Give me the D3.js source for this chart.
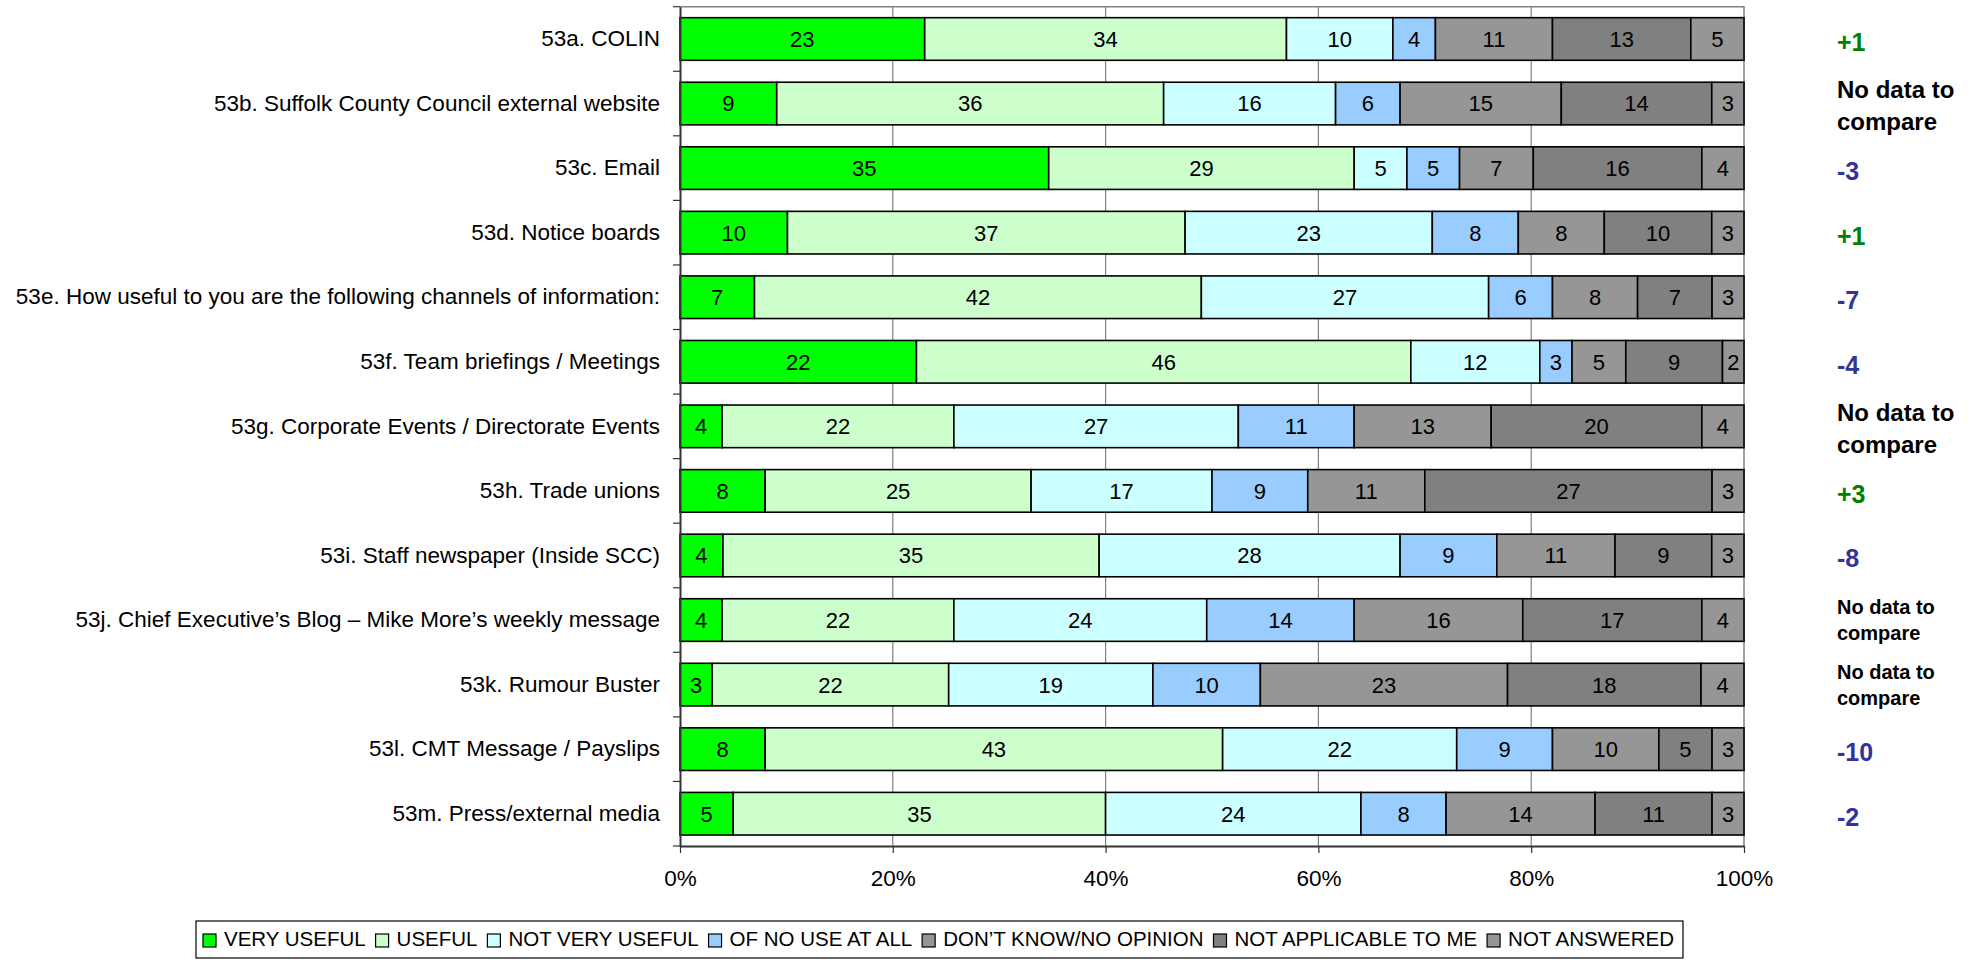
<!DOCTYPE html>
<html>
<head>
<meta charset="utf-8">
<script src="https://cdn.jsdelivr.net/npm/d3@7"></script>
<style>
  html, body { margin: 0; padding: 0; background: #fff; }
  svg { display: block; font-family: "Liberation Sans", Arial, sans-serif; }
</style>
</head>
<body>
<svg id="chart" width="1986" height="960"></svg>
<script>
// ---------- DATA ----------
const categories = [
  "53a. COLIN",
  "53b. Suffolk County Council external website",
  "53c. Email",
  "53d. Notice boards",
  "53e. How useful to you are the following channels of information:",
  "53f. Team briefings / Meetings",
  "53g. Corporate Events / Directorate Events",
  "53h. Trade unions",
  "53i. Staff newspaper (Inside SCC)",
  "53j. Chief Executive\u2019s Blog \u2013 Mike More\u2019s weekly message",
  "53k. Rumour Buster",
  "53l. CMT Message / Payslips",
  "53m. Press/external media"
];
const seriesNames = [
  "VERY USEFUL", "USEFUL", "NOT VERY USEFUL", "OF NO USE AT ALL",
  "DON\u2019T KNOW/NO OPINION", "NOT APPLICABLE TO ME", "NOT ANSWERED"
];
const veryUseful    = [23, 9, 35, 10, 7, 22, 4, 8, 4, 4, 3, 8, 5];
const useful        = [34, 36, 29, 37, 42, 46, 22, 25, 35, 22, 22, 43, 35];
const notVeryUseful = [10, 16, 5, 23, 27, 12, 27, 17, 28, 24, 19, 22, 24];
const ofNoUse       = [4, 6, 5, 8, 6, 3, 11, 9, 9, 14, 10, 9, 8];
const dontKnow      = [11, 15, 7, 8, 8, 5, 13, 11, 11, 16, 23, 10, 14];
const notApplicable = [13, 14, 16, 10, 7, 9, 20, 27, 9, 17, 18, 5, 11];
const notAnswered   = [5, 3, 4, 3, 3, 2, 4, 3, 3, 4, 4, 3, 3];
const changes = ["+1", "No data to compare", "-3", "+1", "-7", "-4",
  "No data to compare", "+3", "-8", "No data to compare", "No data to compare", "-10", "-2"];
const xTicks = [0, 0.2, 0.4, 0.6, 0.8, 1.0];

const seriesColors = ["#00FF00", "#CCFFCC", "#CCFFFF", "#99CCFF", "#969696", "#808080", "#969696"];

// ---------- LAYOUT ----------
const plot = { left: 680, right: 1744, top: 6.7, bottom: 846 };
const svg = d3.select("#chart");

const allSeries = [veryUseful, useful, notVeryUseful, ofNoUse, dontKnow, notApplicable, notAnswered];
const rows = categories.map((c, i) => {
  const obj = { cat: c };
  seriesNames.forEach((s, k) => obj[s] = allSeries[k][i]);
  return obj;
});

const x = d3.scaleLinear().domain([0, 1]).range([plot.left, plot.right]);
const y = d3.scaleBand().domain(categories).range([plot.top, plot.bottom])
  .paddingInner(0.34).paddingOuter(0.17);

const stack = d3.stack().keys(seriesNames).offset(d3.stackOffsetExpand);
const stacked = stack(rows);

// gridlines
svg.append("g").selectAll("line").data(xTicks.slice(1, -1)).join("line")
  .attr("x1", d => x(d)).attr("x2", d => x(d))
  .attr("y1", plot.top).attr("y2", plot.bottom)
  .attr("stroke", "#808080").attr("stroke-width", 1.2);

// plot area border (top and right)
svg.append("path")
  .attr("d", `M${plot.left},${plot.top}H${plot.right}V${plot.bottom}`)
  .attr("fill", "none").attr("stroke", "#808080").attr("stroke-width", 1.5);

// bars
const layers = svg.append("g").selectAll("g").data(stacked).join("g")
  .attr("fill", (d, i) => seriesColors[i]);
layers.selectAll("rect").data(d => d).join("rect")
  .attr("x", d => x(d[0]))
  .attr("width", d => x(d[1]) - x(d[0]))
  .attr("y", d => y(d.data.cat))
  .attr("height", y.bandwidth())
  .attr("stroke", "#000").attr("stroke-width", 1.6);

// value labels
const lbl = svg.append("g").attr("font-size", 22).attr("fill", "#000").attr("text-anchor", "middle");
stacked.forEach(layer => {
  layer.forEach(d => {
    lbl.append("text")
      .attr("x", (x(d[0]) + x(d[1])) / 2)
      .attr("y", y(d.data.cat) + y.bandwidth() / 2)
      .attr("dy", "0.36em")
      .text(d.data[layer.key]);
  });
});

// x axis
const xAxis = svg.append("g").attr("transform", `translate(0,${plot.bottom})`)
  .call(d3.axisBottom(x).tickValues(xTicks).tickFormat(d3.format(".0%"))
    .tickSizeInner(7).tickSizeOuter(0).tickPadding(17));
xAxis.select(".domain").attr("stroke", "#333").attr("stroke-width", 2);
xAxis.selectAll(".tick line").attr("stroke", "#333").attr("stroke-width", 1.2);
xAxis.selectAll("text").attr("font-size", 22.5).attr("font-family", "Liberation Sans, Arial, sans-serif").attr("fill", "#000");

// y axis with category labels
const yAxis = svg.append("g").attr("transform", `translate(${plot.left},0)`)
  .call(d3.axisLeft(y).tickSize(0).tickPadding(20));
yAxis.select(".domain").attr("stroke", "#333").attr("stroke-width", 2);
yAxis.selectAll("text").attr("font-size", 22.5).attr("font-family", "Liberation Sans, Arial, sans-serif").attr("fill", "#000");

// boundary ticks on y axis
const boundaries = d3.range(categories.length + 1).map(i => plot.top + i * y.step());
svg.append("g").selectAll("line").data(boundaries).join("line")
  .attr("x1", plot.left - 7).attr("x2", plot.left)
  .attr("y1", d => d).attr("y2", d => d)
  .attr("stroke", "#333").attr("stroke-width", 1.2);

// change annotations
const notes = svg.append("g").attr("font-weight", "bold");
changes.forEach((c, i) => {
  const cy = y(categories[i]) + y.bandwidth() / 2;
  if (c.startsWith("No data")) {
    const small = (i === 9 || i === 10);
    const fs = small ? 20 : 24;
    const lh = small ? 26 : 32;
    const t = notes.append("text").attr("x", 1837).attr("font-size", fs).attr("fill", "#000");
    t.append("tspan").attr("x", 1837).attr("y", cy - lh / 2 + (small ? 0 : 2)).attr("dy", "0.36em").text("No data to");
    t.append("tspan").attr("x", 1837).attr("y", cy + lh / 2 + (small ? 0 : 2)).attr("dy", "0.36em").text("compare");
  } else {
    notes.append("text").attr("x", 1837).attr("y", cy + 3).attr("dy", "0.36em")
      .attr("font-size", 25)
      .attr("fill", c.startsWith("+") ? "#008000" : "#333399")
      .text(c);
  }
});

// legend
const legend = svg.append("g");
legend.append("rect").attr("x", 196).attr("y", 921).attr("width", 1487).attr("height", 37)
  .attr("fill", "#fff").attr("stroke", "#000").attr("stroke-width", 1.2);
const legStart = 203, legEnd = 1674, sq = 13, sqGap = 8;
const items = seriesNames.map((s, i) => {
  const g = legend.append("g");
  g.append("rect").attr("x", 0).attr("y", 934).attr("width", sq).attr("height", sq)
    .attr("fill", seriesColors[i]).attr("stroke", "#000").attr("stroke-width", 1.2);
  const t = g.append("text").attr("x", sq + sqGap).attr("y", 939).attr("dy", "0.36em")
    .attr("font-size", 20.5).attr("fill", "#000").text(s);
  return { g, w: sq + sqGap + t.node().getComputedTextLength() };
});
const totalW = d3.sum(items, d => d.w);
const gap = (legEnd - legStart - totalW) / (items.length - 1);
let lx = legStart;
items.forEach(it => { it.g.attr("transform", `translate(${lx},0)`); lx += it.w + gap; });
</script>
</body>
</html>
